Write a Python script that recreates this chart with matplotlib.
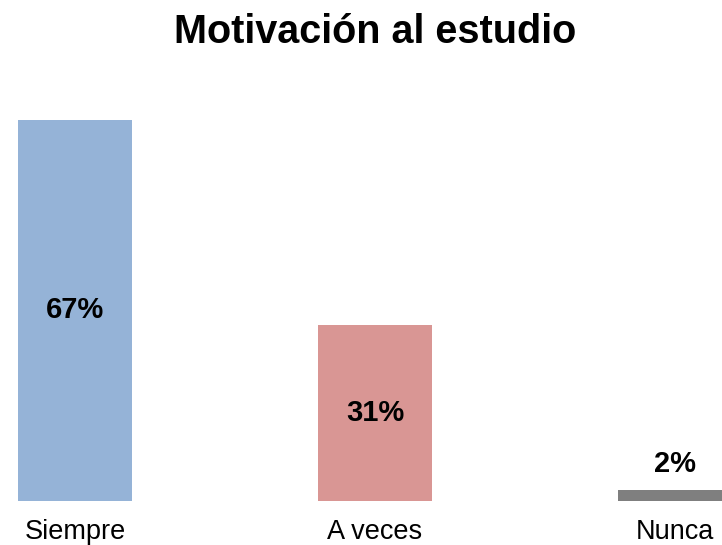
import matplotlib
matplotlib.use("Agg")
import matplotlib.pyplot as plt

categories = ["Siempre", "A veces", "Nunca"]
values = [67, 31, 2]
labels = ["67%", "31%", "2%"]
colors = ["#95B3D7", "#D99694", "#7F7F7F"]

plt.rcParams["font.family"] = ["Liberation Sans", "DejaVu Sans"]

fig = plt.figure(figsize=(7.22, 5.45), dpi=100)
ax = fig.add_axes([0, 44 / 545, 1, 381 / 545])

x = list(range(len(categories)))
ax.bar(x, values, width=0.38, color=colors)

# labels inside the tall bars, above the small one
for xi, v, lab in zip(x, values, labels):
    if v > 10:
        ax.text(xi, v / 2, lab, ha="center", va="center", fontsize=21, fontweight="bold")
    else:
        ax.text(xi, v + 4.5, lab, ha="center", va="center", fontsize=21, fontweight="bold")

ax.set_xlim(-0.25, 647 / 300)
ax.set_ylim(0, 67)
ax.set_xticks(x)
ax.set_xticklabels(categories, fontsize=19.5)
ax.tick_params(axis="x", length=0, pad=13)
ax.set_yticks([])
for s in ax.spines.values():
    s.set_visible(False)

fig.text(375 / 722, 1 - 32 / 545, "Motivación al estudio", ha="center", va="center",
         fontsize=28.5, fontweight="bold")

fig.savefig("out.png", dpi=100)
